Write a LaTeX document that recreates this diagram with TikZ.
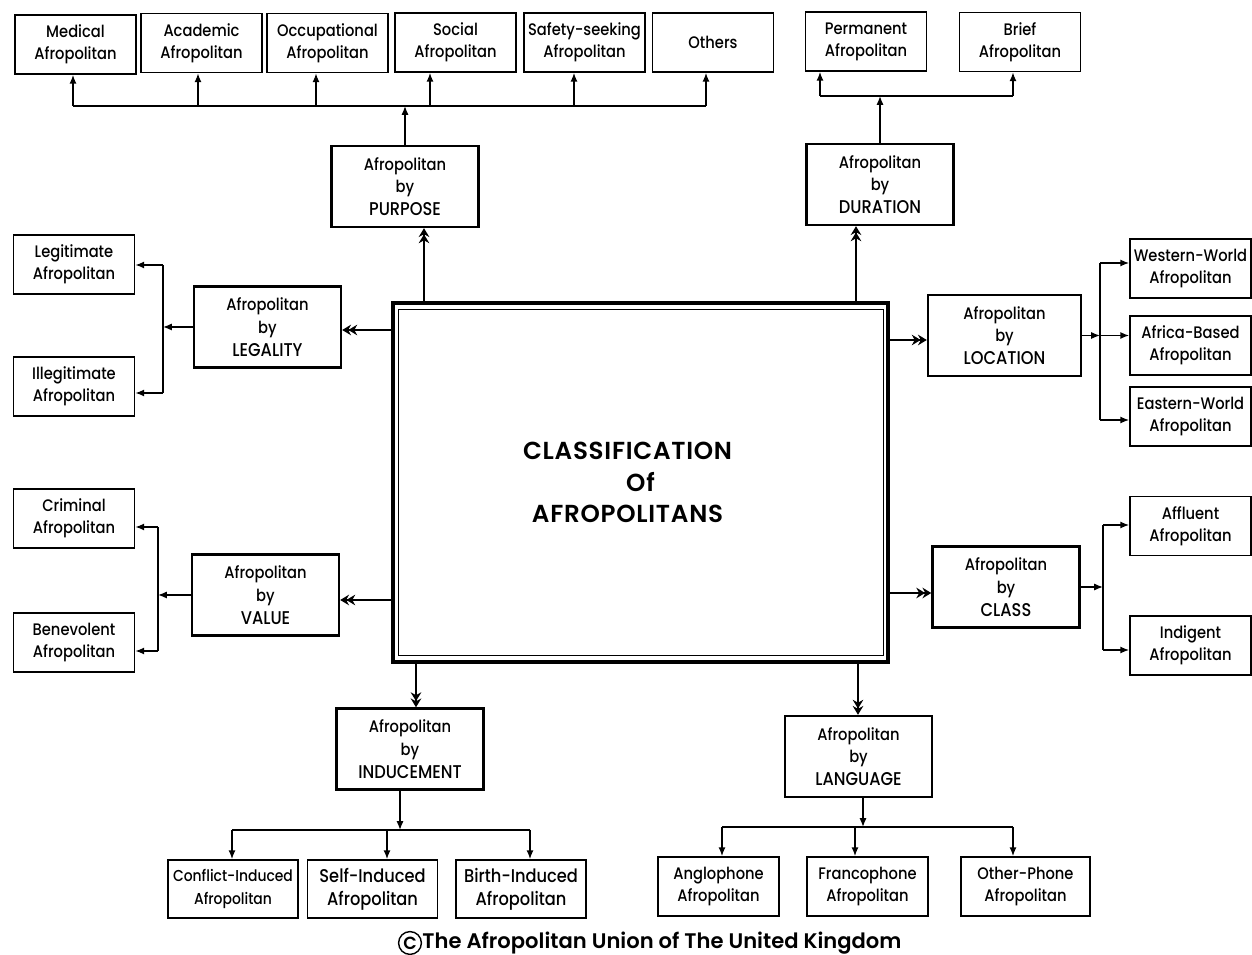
\documentclass[tikz,border=0pt]{standalone}
\usepackage{fontspec}
\setmainfont{Poppins}[FakeStretch=0.88, UprightFont=* Medium, BoldFont=* SemiBold]
\newfontfamily\widefont{Poppins}[UprightFont=* SemiBold, LetterSpace=3]
\newfontfamily\plainfont{Poppins}[UprightFont=* SemiBold]
\usetikzlibrary{arrows.meta,calc}
\begin{document}
\begin{tikzpicture}[x=0.02cm,y=-0.02cm,
  box/.style={draw, line width=1pt, inner sep=0pt, align=center, font=\fontsize{9.5}{12.5}\selectfont},
  sb/.style={box, minimum width=2.42cm, minimum height=1.18cm},
  bb/.style={box, minimum width=2.6cm, minimum height=1.16cm, font=\fontsize{10.5}{13}\selectfont},
  mid/.style={draw, line width=1.4pt, inner sep=0pt, align=center, font=\fontsize{9.5}{13}\selectfont, minimum width=2.94cm, minimum height=1.62cm},
  main/.style={line width=1.3pt, -{Stealth[length=5pt,width=6pt,sep=-1.5pt]Stealth[length=5pt,width=6pt]}},
  sub/.style={line width=0.8pt, -{Latex[length=5pt,width=4pt]}},
  bus/.style={line width=0.8pt},
]
\fill[white] (0,0) rectangle (1252,955);
\useasboundingbox (0,0) rectangle (1252,955);
\newcommand\UC[1]{{\fontsize{10.5}{13}\selectfont #1}}

% top row
\node[sb] (medical) at (75.5,44.5) {Medical\\Afropolitan};
\node[sb] (academic) at (201.5,43) {Academic\\Afropolitan};
\node[sb] (occup) at (327.5,43) {Occupational\\Afropolitan};
\node[sb] (social) at (455.5,42.5) {Social\\Afropolitan};
\node[sb] (safety) at (584.5,42.5) {Safety-seeking\\Afropolitan};
\node[sb] (others) at (713,42.5) {Others};
\node[sb] (perm) at (866,41.5) {Permanent\\Afropolitan};
\node[sb] (brief) at (1020,42) {Brief\\Afropolitan};

% left column
\node[sb] (legit) at (74,264.5) {Legitimate\\Afropolitan};
\node[sb] (illegit) at (74,386.5) {Illegitimate\\Afropolitan};
\node[sb] (criminal) at (74,518.5) {Criminal\\Afropolitan};
\node[sb] (benev) at (74,642.5) {Benevolent\\Afropolitan};

% right column
\node[sb] (western) at (1190.5,268.5) {Western-World\\Afropolitan};
\node[sb] (africa) at (1190.5,345.5) {Africa-Based\\Afropolitan};
\node[sb] (eastern) at (1190.5,416.5) {Eastern-World\\Afropolitan};
\node[sb] (affluent) at (1190.5,526) {Affluent\\Afropolitan};
\node[sb] (indigent) at (1190.5,645.5) {Indigent\\Afropolitan};

% bottom row
\node[bb, font=\fontsize{9}{13}\selectfont] (conflict) at (233,889) {Conflict-Induced\\Afropolitan};
\node[bb] (self) at (372.5,889) {Self-Induced\\Afropolitan};
\node[bb] (birth) at (521,889) {Birth-Induced\\Afropolitan};
\node[sb] (anglo) at (718.5,886.5) {Anglophone\\Afropolitan};
\node[sb] (franco) at (867.5,886.5) {Francophone\\Afropolitan};
\node[sb, minimum width=2.58cm] (other) at (1025.5,886.5) {Other-Phone\\Afropolitan};

% middle level
\node[mid] (purpose) at (405,186.5) {Afropolitan\\by\\\UC{PURPOSE}};
\node[mid] (duration) at (880,184.5) {Afropolitan\\by\\\UC{DURATION}};
\node[mid] (legality) at (267.5,327) {Afropolitan\\by\\\UC{LEGALITY}};
\node[mid] (value) at (265.5,595) {Afropolitan\\by\\\UC{VALUE}};
\node[mid, minimum width=3.06cm] (location) at (1004.5,335.5) {Afropolitan\\by\\\UC{LOCATION}};
\node[mid] (class) at (1006,587) {Afropolitan\\by\\\UC{CLASS}};
\node[mid] (inducement) at (410,749) {Afropolitan\\by\\\UC{INDUCEMENT}};
\node[mid] (language) at (858.5,756.5) {Afropolitan\\by\\\UC{LANGUAGE}};

% centre
\node[draw, line width=1.8pt, minimum width=9.9cm, minimum height=7.18cm, inner sep=0pt, align=center,
      font=\fontsize{14}{18}\widefont] (center) at (640.5,482.5)
      {CLASSIFICATION\hspace*{0.52cm}\\Of\hspace*{0.52cm}\\AFROPOLITANS\hspace*{0.52cm}};
\draw[line width=0.7pt] ($(center.north west)+(7,8)$) rectangle ($(center.south east)+(-6,-8)$);

% main connectors
\coordinate (mp) at (424,0);
\coordinate (md) at (856,0);
\coordinate (ml) at (0,330);
\coordinate (mv) at (0,600);
\coordinate (mo) at (0,340);
\coordinate (mc) at (0,593);
\coordinate (mi) at (416,0);
\coordinate (mg) at (858,0);
\draw[main] (mp |- center.north) -- (mp |- purpose.south);
\draw[main] (md |- center.north) -- (md |- duration.south);
\draw[main] (ml -| center.west) -- (ml -| legality.east);
\draw[main] (mv -| center.west) -- (mv -| value.east);
\draw[main] (mo -| center.east) -- (mo -| location.west);
\draw[main] (mc -| center.east) -- (mc -| class.west);
\draw[main] (mi |- center.south) -- (mi |- inducement.north);
\draw[main] (mg |- center.south) -- (mg |- language.north);

% purpose branch
\coordinate (pb) at (405,106);
\draw[sub] (purpose.north) -- (pb);
\foreach \n/\x in {medical/73, academic/198, occup/316, social/430, safety/574, others/706} {
  \coordinate (pb-\n) at (\x,106);
  \draw[sub] (pb-\n) -- (pb-\n |- \n.south);
}
\draw[bus] (pb-medical) -- (pb-others);

% duration branch
\coordinate (db) at (880,96);
\draw[sub] (duration.north) -- (db);
\foreach \n/\x in {perm/820, brief/1013} {
  \coordinate (db-\n) at (\x,96);
  \draw[sub] (db-\n) -- (db-\n |- \n.south);
}
\draw[bus] (db-perm) -- (db-brief);

% legality branch
\coordinate (lb) at (163,327);
\draw[sub] (legality.west) -- (lb);
\foreach \n/\y in {legit/265, illegit/393} {
  \coordinate (lb-\n) at (163,\y);
  \draw[sub] (lb-\n) -- (lb-\n -| \n.east);
}
\draw[bus] (lb-legit) -- (lb-illegit);

% value branch
\coordinate (vb) at (158,595);
\draw[sub] (value.west) -- (vb);
\foreach \n/\y in {criminal/527, benev/651} {
  \coordinate (vb-\n) at (158,\y);
  \draw[sub] (vb-\n) -- (vb-\n -| \n.east);
}
\draw[bus] (vb-criminal) -- (vb-benev);

% location branch
\coordinate (ob) at (1100,335.5);
\draw[sub] (location.east) -- (ob);
\foreach \n/\y in {western/263, africa/335.5, eastern/420} {
  \coordinate (ob-\n) at (1100,\y);
  \draw[sub] (ob-\n) -- (ob-\n -| \n.west);
}
\draw[bus] (ob-western) -- (ob-eastern);

% class branch
\coordinate (cb) at (1103,587);
\draw[sub] (class.east) -- (cb);
\foreach \n/\y in {affluent/525, indigent/650} {
  \coordinate (cb-\n) at (1103,\y);
  \draw[sub] (cb-\n) -- (cb-\n -| \n.west);
}
\draw[bus] (cb-affluent) -- (cb-indigent);

% inducement branch
\coordinate (ib) at (400,830);
\draw[sub] (ib |- inducement.south) -- (ib);
\foreach \n/\x in {conflict/232, self/387, birth/530} {
  \coordinate (ib-\n) at (\x,830);
  \draw[sub] (ib-\n) -- (ib-\n |- \n.north);
}
\draw[bus] (ib-conflict) -- (ib-birth);

% language branch
\coordinate (gb) at (863,827);
\draw[sub] (gb |- language.south) -- (gb);
\foreach \n/\x in {anglo/722, franco/855, other/1013} {
  \coordinate (gb-\n) at (\x,827);
  \draw[sub] (gb-\n) -- (gb-\n |- \n.north);
}
\draw[bus] (gb-anglo) -- (gb-other);

% copyright
\node[draw, circle, line width=0.8pt, inner sep=0.9pt, font=\fontsize{10}{10}\plainfont] (copyc) at (410,943) {C};
\node[anchor=west, inner sep=0pt, font=\fontsize{12}{14}\plainfont] (copy) at (copyc.east) {The Afropolitan Union of The United Kingdom};
\end{tikzpicture}
\end{document}
